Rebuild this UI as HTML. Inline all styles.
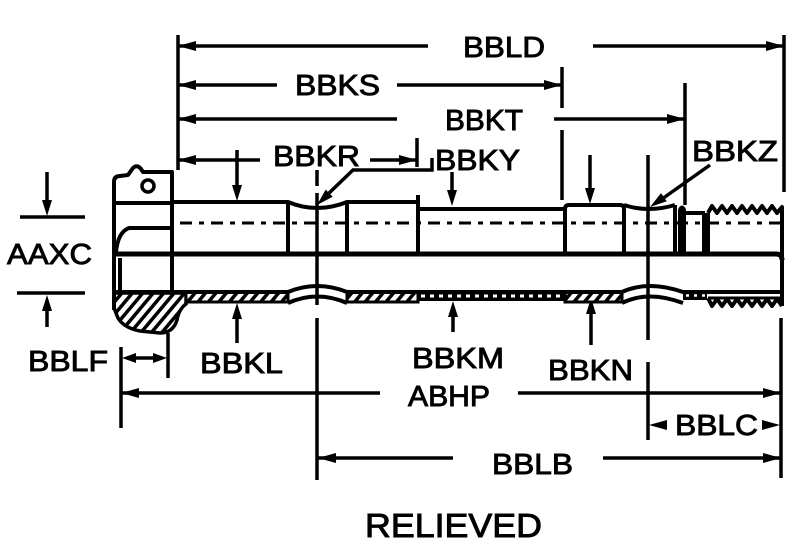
<!DOCTYPE html>
<html><head><meta charset="utf-8"><style>
html,body{margin:0;padding:0;background:#fff;}
svg{display:block;}
text{font-family:"Liberation Sans",Arial,sans-serif;font-size:29px;fill:#000;stroke:#000;stroke-width:0.9px;}
</style></head><body>
<svg width="808" height="556" viewBox="0 0 808 556" xmlns="http://www.w3.org/2000/svg">
<defs>
<pattern id="h" width="8" height="8" patternUnits="userSpaceOnUse" patternTransform="rotate(40)"><rect width="8" height="8" fill="#fff"/><rect width="3.5" height="8" fill="#000"/></pattern>
</defs>
<rect width="808" height="556" fill="#fff"/>

<!-- ===== Dimension lines ===== -->
<g stroke="#000" stroke-width="3.5" fill="none">
  <path d="M178 35 V170"/>
  <path d="M784 35 V192"/>
  <path d="M781 318 V478"/>
  <!-- BBLD -->
  <path d="M178 46 H428 M593 46 H784"/>
  <!-- BBKS -->
  <path d="M178 85 H277 M397 85 H562"/>
  <path d="M562 67 V108 M562 130 V200"/>
  <!-- BBKT -->
  <path d="M178 119 H397 M554 119 H685"/>
  <path d="M685 83 V205"/>
  <!-- BBKR -->
  <path d="M178 160 H260 M370 160 H417"/>
  <path d="M417 138 V167"/>
  <path d="M237 150 V190"/>
  <!-- leader BBKR/BBKY -->
  <path d="M432 158 V170 H353 L327 195"/>
  <path d="M452 172 V192"/>
  <!-- BBKZ leader -->
  <path d="M710 165 L662 199"/>
  <path d="M590 155 V190"/>
  <!-- center lines -->
  <path d="M317 170 V186 M317 193 V305 M317 318 V480"/>
  <path d="M648 155 V340 M648 362 V440"/>
  <!-- AAXC -->
  <path d="M47 172 V202 M20 217 H85 M17 293 H85 M47 310 V327"/>
  <!-- BBLF -->
  <path d="M121 347 V428 M168 333 V378 M130 358 H160"/>
  <!-- BBKL / BBKM / BBKN arrows -->
  <path d="M237 318 V343 M453 316 V332 M591 313 V345"/>
  <!-- ABHP -->
  <path d="M121 393 H380 M518 393 H781"/>
  <!-- BBLB -->
  <path d="M317 458 H453 M603 458 H781"/>
</g>
<g fill="#000">
  <polygon points="178,46 196,41 196,51"/>
  <polygon points="784,46 766,41 766,51"/>
  <polygon points="178,85 196,80 196,90"/>
  <polygon points="562,85 544,80 544,90"/>
  <polygon points="178,119 196,114 196,124"/>
  <polygon points="685,119 667,114 667,124"/>
  <polygon points="178,160 196,155 196,165"/>
  <polygon points="417,160 399,155 399,165"/>
  <polygon points="237,201 232,185 242,185"/>
  <polygon points="317,205 332.7,196.8 325.7,189.6"/>
  <polygon points="452,206 447,190 457,190"/>
  <polygon points="650,207 666.8,201.3 661,193.1"/>
  <polygon points="590,204 585,188 595,188"/>
  <polygon points="47,216 42,200 52,200"/>
  <polygon points="47,295 42,311 52,311"/>
  <polygon points="122,358 136,353 136,363"/>
  <polygon points="167,358 153,353 153,363"/>
  <polygon points="237,303 232,319 242,319"/>
  <polygon points="453,301 448,317 458,317"/>
  <polygon points="591,298 586,314 596,314"/>
  <polygon points="121,393 139,388 139,398"/>
  <polygon points="781,393 763,388 763,398"/>
  <polygon points="649,425 667,420 667,430"/>
  <polygon points="780,425 762,420 762,430"/>
  <polygon points="318,458 336,453 336,463"/>
  <polygon points="781,458 763,453 763,463"/>
</g>

<!-- ===== Part ===== -->
<path d="M114 293 H186 V304 Q179 309 177 320 Q173 333 160 333 L140 331 Q124 328 118 318 L114 308 Z" fill="url(#h)" stroke="#000" stroke-width="3.5"/>
<rect x="186" y="292" width="102" height="10" fill="url(#h)" stroke="#000" stroke-width="3"/>
<rect x="347" y="292" width="71" height="10" fill="url(#h)" stroke="#000" stroke-width="3"/>
<rect x="418" y="291" width="147" height="10" fill="#000"/>
<path d="M421 296 H563" stroke="#fff" stroke-width="3" stroke-dasharray="4 5"/>
<rect x="565" y="292" width="57" height="10" fill="url(#h)" stroke="#000" stroke-width="3"/>
<rect x="683" y="291" width="24" height="9" fill="#000"/>
<path d="M686 295.5 H705" stroke="#fff" stroke-width="2.5" stroke-dasharray="3 5"/>

<g stroke="#000" stroke-width="4" fill="none" stroke-linejoin="round">
  <path d="M114 310 V182 Q114 176 120 176 L128 175 L133 168 Q137 164 141 169 L143 172 H172 V293"/>
  <circle cx="148" cy="186" r="6" stroke-width="3.5"/>
  <path d="M116 203 H172"/>
  <path d="M116 252 Q118 232 129 228 H172"/>
  <path d="M120 258 V292"/>
  <path d="M113 254 H776 Q782 254 782 260" stroke-width="5"/>
  <path d="M114 292 H288 Q317 280 347 292 H622 Q648 280 683 292 H782"/>
  <path d="M288 303 Q317 290 347 303"/>
  <path d="M622 303 Q648 290 683 303"/>
  <path d="M172 202 H288 Q317 214 347 202 H418"/>
  <path d="M418 209 H565"/>
  <path d="M565 254 V209 Q565 205 569 205 H620 Q624 205 624 209 V254"/>
  <path d="M624 205 Q648 213 675 205"/>
  <path d="M288 203 V254 M347 202 V254 M418 195 V254"/>
  <path d="M675 205 V254"/>
  <path d="M680 254 V210 Q682 205 684 210 V254"/>
  <path d="M684 213 H705"/>
  <path d="M704 213 V254 M708 213 V254"/>
  <path d="M708 213 L712 206 L717 213 L722 206 L727 213 L732 206 L737 213 L742 206 L747 213 L752 206 L757 213 L762 206 L767 213 L772 206 L777 213 L782 207 V306"/>
  <path d="M708 298 L712 306 L717 299 L722 306 L727 299 L732 306 L737 299 L742 306 L747 299 L752 306 L757 299 L762 306 L767 299 L772 306 L777 299 L782 306"/>
  <path d="M708 298 H782" stroke-width="3"/>
</g>
<path d="M180 223 H782" stroke="#000" stroke-width="3" stroke-dasharray="12 7 5 7" fill="none"/>

<!-- ===== Labels ===== -->
<text x="463" y="57" textLength="82" lengthAdjust="spacingAndGlyphs">BBLD</text>
<text x="295" y="95" textLength="85" lengthAdjust="spacingAndGlyphs">BBKS</text>
<text x="445" y="130" textLength="78" lengthAdjust="spacingAndGlyphs">BBKT</text>
<text x="273" y="166" textLength="87" lengthAdjust="spacingAndGlyphs">BBKR</text>
<text x="435" y="170" textLength="85" lengthAdjust="spacingAndGlyphs">BBKY</text>
<text x="692" y="161" textLength="86" lengthAdjust="spacingAndGlyphs">BBKZ</text>
<text x="7" y="264" textLength="85" lengthAdjust="spacingAndGlyphs">AAXC</text>
<text x="28" y="371" textLength="80" lengthAdjust="spacingAndGlyphs">BBLF</text>
<text x="200" y="373" textLength="83" lengthAdjust="spacingAndGlyphs">BBKL</text>
<text x="412" y="368" textLength="92" lengthAdjust="spacingAndGlyphs">BBKM</text>
<text x="408" y="406" textLength="82" lengthAdjust="spacingAndGlyphs">ABHP</text>
<text x="548" y="380" textLength="85" lengthAdjust="spacingAndGlyphs">BBKN</text>
<text x="675" y="435" textLength="83" lengthAdjust="spacingAndGlyphs">BBLC</text>
<text x="492" y="474" textLength="81" lengthAdjust="spacingAndGlyphs">BBLB</text>
<text x="365" y="537" style="font-size:33px" textLength="177" lengthAdjust="spacingAndGlyphs">RELIEVED</text>
</svg>
</body></html>
